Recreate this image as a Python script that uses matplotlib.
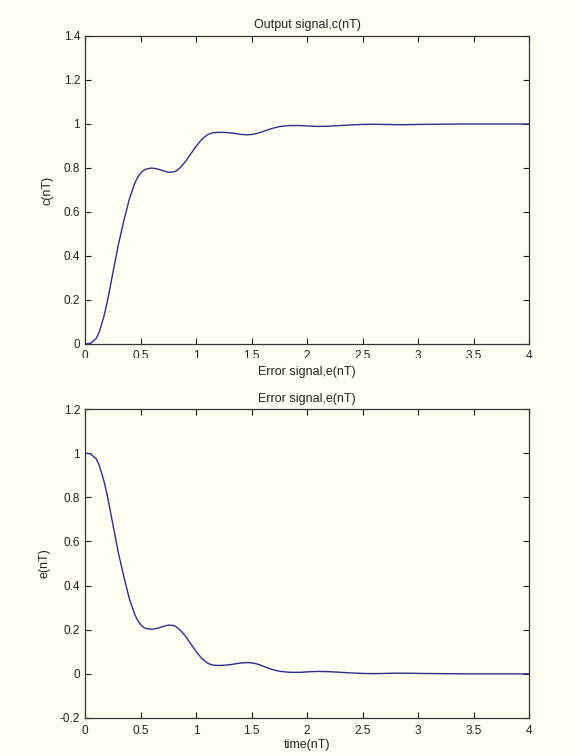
import matplotlib
matplotlib.use("Agg")
import matplotlib.pyplot as plt
from matplotlib.transforms import Bbox

plt.rcParams['font.family'] = ['Liberation Sans', 'DejaVu Sans']

t = [0, 0.05, 0.1, 0.125, 0.15, 0.175, 0.2, 0.25, 0.3, 0.35, 0.4, 0.45, 0.475, 0.5,
     0.525, 0.55, 0.6, 0.65, 0.7, 0.75, 0.8, 0.825, 0.85, 0.9, 0.95, 1.0, 1.05,
     1.1, 1.125, 1.15, 1.2, 1.25, 1.3, 1.35, 1.4, 1.45, 1.5, 1.55, 1.6, 1.65,
     1.7, 1.75, 1.8, 1.85, 1.9, 1.95, 2.0, 2.1, 2.2, 2.3, 2.4, 2.5, 2.6, 2.7,
     2.8, 2.9, 3.0, 3.2, 3.4, 3.6, 3.8, 4.0]
c = [0, 0.003, 0.025, 0.05, 0.09, 0.135, 0.19, 0.32, 0.45, 0.56, 0.66, 0.733,
     0.758, 0.776, 0.788, 0.795, 0.80, 0.796, 0.788, 0.781, 0.782, 0.788, 0.798,
     0.826, 0.862, 0.898, 0.929, 0.950, 0.956, 0.960, 0.962, 0.962, 0.960,
     0.957, 0.953, 0.951, 0.952, 0.957, 0.965, 0.974, 0.982, 0.988, 0.991,
     0.993, 0.993, 0.993, 0.991, 0.989, 0.99, 0.993, 0.996, 0.998, 0.999,
     0.998, 0.997, 0.997, 0.998, 0.999, 1.0, 1.0, 1.0, 1.0]
e = [1.0, 0.997, 0.975, 0.95, 0.91, 0.865, 0.81, 0.68, 0.55, 0.44, 0.34, 0.267,
     0.242, 0.224, 0.212, 0.205, 0.202, 0.206, 0.214, 0.221, 0.219, 0.212, 0.202,
     0.174, 0.138, 0.102, 0.071, 0.050, 0.044, 0.040, 0.038, 0.039, 0.041,
     0.045, 0.049, 0.051, 0.05, 0.045, 0.036, 0.026, 0.018, 0.012, 0.009,
     0.007, 0.007, 0.007, 0.009, 0.011, 0.01, 0.007, 0.004, 0.002, 0.001,
     0.002, 0.003, 0.003, 0.002, 0.001, 0.0, 0.0, 0.0, 0.0]

xticks = [0, 0.5, 1, 1.5, 2, 2.5, 3, 3.5, 4]
xticklabels = ['0', '0.5', '1', '1.5', '2', '2.5', '3', '3.5', '4']
yticks_top = [0, 0.2, 0.4, 0.6, 0.8, 1.0, 1.2, 1.4]
yticklabels_top = ['0', '0.2', '0.4', '0.6', '0.8', '1', '1.2', '1.4']
yticks_bot = [-0.2, 0, 0.2, 0.4, 0.6, 0.8, 1.0, 1.2]
yticklabels_bot = ['-0.2', '0', '0.2', '0.4', '0.6', '0.8', '1', '1.2']

bg = '#FEFEF2'
line_color = '#2E2E8A'
edge = '#333333'
txt = '#222222'

fig = plt.figure(figsize=(5.77, 7.56), dpi=100, facecolor=bg)
W, H = 577, 756

def make_axes(bottom_px, top_px):
    return fig.add_axes([85 / W, 1 - bottom_px / H, (529 - 85) / W, (bottom_px - top_px) / H],
                        facecolor=bg)

ax1 = make_axes(344, 36)
ax2 = make_axes(718, 409)

specs = [
    (ax1, c, yticks_top, yticklabels_top, (0, 1.4), 'Output signal,c(nT)', 'Error signal,e(nT)', 'c(nT)', 6, 3.5, 4),
    (ax2, e, yticks_bot, yticklabels_bot, (-0.2, 1.2), 'Error signal,e(nT)', 'time(nT)', 'e(nT)', 5, 1.5, 5),
]
for ax, y, yt, ytl, ylim, title, xlabel, ylabel, tpad, xlpad, xtpad in specs:
    ax.plot(t, y, color=line_color, linewidth=1.0)
    ax.set_xlim(0, 4)
    ax.set_ylim(*ylim)
    ax.set_xticks(xticks)
    ax.set_xticklabels(xticklabels)
    ax.set_yticks(yt)
    ax.set_yticklabels(ytl)
    ax.tick_params(direction='in', length=4, width=0.8, top=True, right=True,
                   labelsize=8.5, colors=txt)
    ax.tick_params(axis='x', pad=xtpad)
    ax.tick_params(axis='y', pad=3.5)
    for s in ax.spines.values():
        s.set_color(edge)
        s.set_linewidth(0.9)
    ax.set_title(title, fontsize=9, color=txt, pad=tpad)
    ax.set_xlabel(xlabel, fontsize=9, color=txt, labelpad=xlpad)
    ax.set_ylabel(ylabel, fontsize=9, color=txt, labelpad=7)

# the top panel's x tick labels are cut off at their lower part in the reference
clip = Bbox.from_extents(0, H - 358, W, H)
for lab in ax1.get_xticklabels():
    lab.set_clip_on(True)
    lab.set_clip_box(clip)

fig.savefig('out.png', dpi=100, facecolor=bg)
